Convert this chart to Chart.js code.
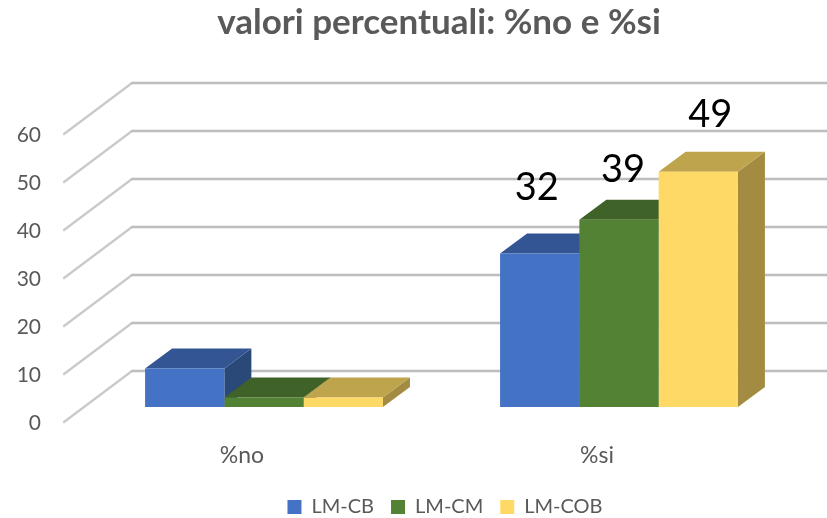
<!DOCTYPE html>
<html><head><meta charset="utf-8">
<style>html,body{margin:0;padding:0;background:#fff}canvas{display:block}</style>
<script src="https://cdn.jsdelivr.net/npm/chart.js@4"></script>
</head><body>
<canvas id="c" width="827" height="518"></canvas>
<script>
const categories = ['%no', '%si'];
const lmCB = [8, 32];
const lmCM = [2, 39];
const lmCOB = [2, 49];
const seriesNames = ['LM-CB', 'LM-CM', 'LM-COB'];
const yTicks = [0, 10, 20, 30, 40, 50, 60];
const labelledCategory = 1;

const frontColors = ['#4472C4', '#548235', '#FFD966'];
const topColors = ['#335593', '#3F6228', '#BFA44E'];
const sideColors = ['#2A4878', '#355322', '#A38B42'];
const FONT = 'Lato, Carlito, sans-serif';
const GREY = '#595959';
const barDepth = {dx: 27, dy: -20};
const wallDepth = {dx: 68, dy: -36};
const frontDrop = 15;
const labelShift = [{dx: -3, dy: -66}, {dx: 4, dy: -50}, {dx: 12, dy: -57}];

const poly = (ctx, pts, fill) => {
  ctx.beginPath();
  pts.forEach((p, i) => i ? ctx.lineTo(p[0], p[1]) : ctx.moveTo(p[0], p[1]));
  ctx.closePath();
  ctx.fillStyle = fill;
  ctx.fill();
};

const depth3d = {
  id: 'depth3d',
  afterLayout(chart) {
    chart.titleBlock.left -= 2.5; chart.titleBlock.right -= 2.5;
    chart.legend.left += 3.5; chart.legend.right += 3.5;
    chart.legend.top += 9; chart.legend.bottom += 9;
  },
  beforeDatasetsDraw(chart) {
    const {ctx, scales: {y}} = chart;
    ctx.save();
    yTicks.forEach(v => {
      const p = y.getPixelForValue(v);
      const bx = 64 + wallDepth.dx, by = p + wallDepth.dy;
      ctx.lineCap = 'round';
      ctx.strokeStyle = '#C9C9C9';
      ctx.lineWidth = 2.2;
      ctx.beginPath();
      ctx.moveTo(64, p + frontDrop);
      ctx.lineTo(bx, by);
      ctx.stroke();
      ctx.strokeStyle = '#BDBDBD';
      ctx.lineWidth = 2.6;
      ctx.beginPath();
      ctx.moveTo(bx, by);
      ctx.lineTo(chart.width, by);
      ctx.stroke();
    });
    const {dx, dy} = barDepth;
    categories.forEach((_, i) => {
      chart.data.datasets.forEach((ds, d) => {
        const el = chart.getDatasetMeta(d).data[i];
        const l = el.x - el.width / 2, r = el.x + el.width / 2, t = el.y, b = el.base;
        poly(ctx, [[r, t], [r + dx, t + dy], [r + dx, b + dy], [r, b]], sideColors[d]);
        poly(ctx, [[l, t], [l + dx, t + dy], [r + dx, t + dy], [r, t]], topColors[d]);
      });
    });
    ctx.restore();
  },
  afterDatasetsDraw(chart) {
    const {ctx} = chart;
    ctx.save();
    ctx.font = '38px ' + FONT;
    ctx.fillStyle = '#000';
    ctx.textAlign = 'center';
    ctx.textBaseline = 'middle';
    chart.data.datasets.forEach((ds, d) => {
      const el = chart.getDatasetMeta(d).data[labelledCategory];
      ctx.fillText(String(ds.data[labelledCategory]), el.x + labelShift[d].dx, el.y + labelShift[d].dy);
    });
    ctx.restore();
  }
};

new Chart(document.getElementById('c'), {
  type: 'bar',
  data: {
    labels: categories,
    datasets: [lmCB, lmCM, lmCOB].map((data, i) => ({
      label: seriesNames[i], data,
      backgroundColor: frontColors[i],
      borderWidth: 0,
      barPercentage: 1,
      categoryPercentage: 0.67
    }))
  },
  options: {
    responsive: false,
    animation: false,
    layout: {padding: {left: 0, right: 30.5, top: 0, bottom: 0}},
    plugins: {
      tooltip: {enabled: false},
      title: {
        display: true, fullSize: false,
        text: 'valori percentuali: %no e %si',
        color: GREY,
        font: {family: FONT, size: 35, weight: 'bold'},
        padding: {top: 2, bottom: 75}
      },
      legend: {
        position: 'bottom', fullSize: false,
        labels: {
          color: GREY, boxWidth: 14, boxHeight: 14, padding: 17,
          font: {family: FONT, size: 20}
        }
      }
    },
    scales: {
      x: {
        grid: {display: false}, border: {display: false},
        ticks: {color: GREY, font: {family: FONT, size: 23}, padding: 27, labelOffset: -22},
        afterFit(s) { s.height = 64; }
      },
      y: {
        min: 0, max: 60,
        grid: {display: false}, border: {display: false},
        ticks: {
          color: GREY, font: {family: FONT, size: 21}, padding: 37.5,
          stepSize: 10, labelOffset: 16
        },
        afterFit(s) { s.width = 86.5; }
      }
    }
  },
  plugins: [depth3d]
});
</script>
</body></html>
